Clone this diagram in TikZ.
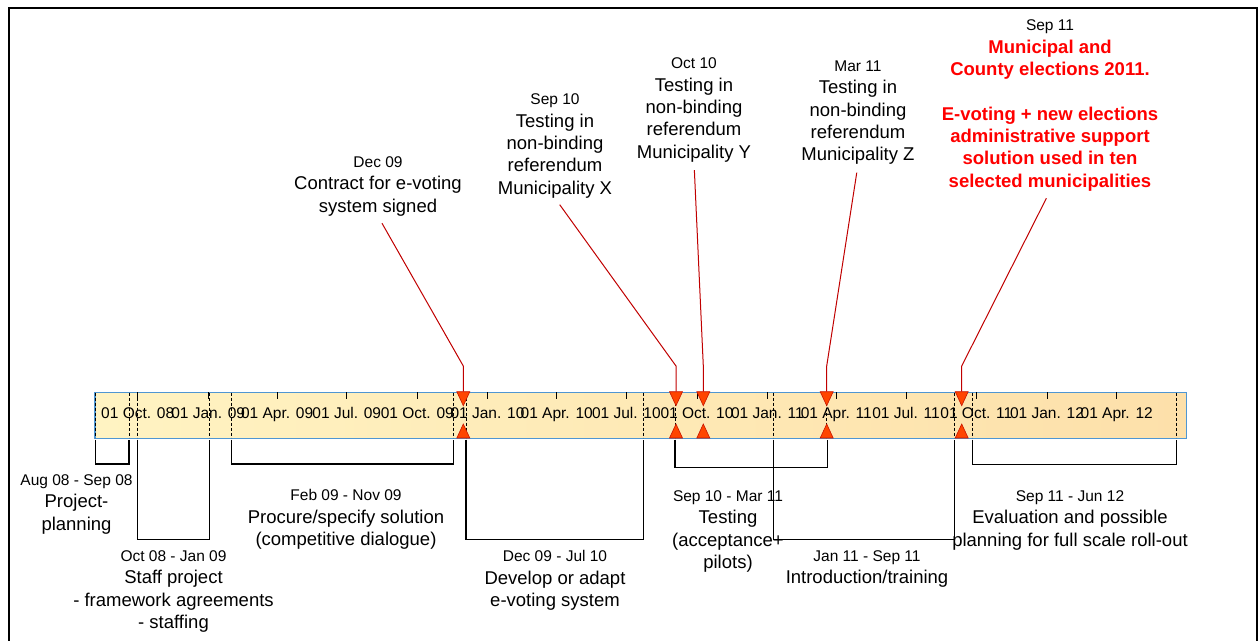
\documentclass[tikz,border=0pt]{standalone}
\usepackage{fontspec}
\setmainfont{Liberation Sans}
\newcommand\smallfnt{\fontsize{15.5}{22.3}\selectfont}
\newcommand\bigfnt{\fontsize{18.5}{22.3}\selectfont}
\definecolor{barblue}{RGB}{79,150,210}
\definecolor{barleft}{RGB}{255,243,194}
\definecolor{barright}{RGB}{253,224,170}
\definecolor{trifill}{RGB}{255,69,0}
\definecolor{tridraw}{RGB}{200,20,0}
\definecolor{msred}{RGB}{192,0,0}
\definecolor{redtxt}{RGB}{255,0,0}
\begin{document}
\begin{tikzpicture}[x=1pt,y=-1pt,
  lbl/.style={align=center,anchor=north,inner sep=0pt,font=\bigfnt},
  qlbl/.style={anchor=base,inner sep=0pt,font=\smallfnt},
  tickline/.style={line width=0.9pt},
  dashline/.style={line width=0.9pt,dash pattern=on 3pt off 2pt},
  bracket/.style={line width=1.3pt},
  msline/.style={draw=msred,line width=1pt,shorten <=8pt},
  tri/.style={fill=trifill,draw=tridraw,line width=0.6pt},
  barbox/.style={draw=barblue,line width=1.3pt,left color=barleft,right color=barright,inner sep=0pt,anchor=north west}
]
\useasboundingbox (0,0) rectangle (1258,640);
% frame
\draw[line width=2.3pt] (8.7,650) -- (8.7,8.2) -- (1257,8.2) -- (1257,650);

% bar
\node[barbox,minimum width=1091.4pt,minimum height=46.3pt] (bar) at (94.3,391.7) {};

% quarter labels and ticks
\foreach \x/\t [count=\i] in {137.7/01 Oct. 08,208.2/01 Jan. 09,277.1/01 Apr. 09,346.8/01 Jul. 09,417.3/01 Oct. 09,487.5/01 Jan. 10,556.7/01 Apr. 10,626.4/01 Jul. 10,697.0/01 Oct. 10,767.4/01 Jan. 11,836.3/01 Apr. 11,906.0/01 Jul. 11,976.3/01 Oct. 11,1047.0/01 Jan. 12,1116.7/01 Apr. 12}{
  \node[qlbl] (q\i) at (\x,418.5) {\t};
  \draw[tickline] (\x,392) -- (\x,399);
}

% dashed task boundaries
\foreach \x in {95.7,129,137.7,209.3,231.7,453.3,466,643.3,675,773.3,826.7,954.3,972.3,1176.7}{
  \draw[dashline] (\x,392.5) -- (\x,437.5);
}

% brackets
\draw[bracket] (95.7,439.5) |- (129,464) -- (129,439.5);
\draw[bracket] (137.7,439.5) |- (209.3,539.3) -- (209.3,439.5);
\draw[bracket] (231.7,439.5) |- (453.3,464) -- (453.3,439.5);
\draw[bracket] (466,439.5) |- (643.3,539.3) -- (643.3,439.5);
\draw[bracket] (675,439.5) |- (827.7,467.3) -- (827.7,439.5);
\draw[bracket] (773.3,439.5) |- (954.3,539.3) -- (954.3,439.5);
\draw[bracket] (972.3,439.5) |- (1176.7,464.3) -- (1176.7,439.5);

% bracket labels
\node[lbl] (l1) at (76.5,474.5) {{\smallfnt Aug 08 - Sep 08}\\Project-\\planning};
\node[lbl] (l2) at (173.5,550.5) {{\smallfnt Oct 08 - Jan 09}\\Staff project\\- framework agreements\\- staffing};
\node[lbl] (l3) at (346,489.5) {{\smallfnt Feb 09 - Nov 09}\\Procure/specify solution\\(competitive dialogue)};
\node[lbl] (l4) at (555,550.5) {{\smallfnt Dec 09 - Jul 10}\\Develop or adapt\\e-voting system};
\node[lbl] (l5) at (728,490.5) {{\smallfnt Sep 10 - Mar 11}\\Testing\\(acceptance+\\pilots)};
\node[lbl] (l6) at (867,550.5) {{\smallfnt Jan 11 - Sep 11}\\Introduction/training};
\node[lbl] (l7) at (1070,490.5) {{\smallfnt Sep 11 - Jun 12}\\Evaluation and possible\\planning for full scale roll-out};

% milestone labels
\node[lbl] (m1) at (378,156.6) {{\smallfnt Dec 09}\\Contract for e-voting\\system signed};
\node[lbl] (m2) at (555,93.9) {{\smallfnt Sep 10}\\Testing in\\non-binding\\referendum\\Municipality X};
\node[lbl] (m3) at (694,57.9) {{\smallfnt Oct 10}\\Testing in\\non-binding\\referendum\\Municipality Y};
\node[lbl] (m4) at (858,60.6) {{\smallfnt Mar 11}\\Testing in\\non-binding\\referendum\\Municipality Z};
\node[lbl,font=\bigfnt\bfseries,text=redtxt] (m5) at (1050,19.9) {{\smallfnt\mdseries\color{black}Sep 11}\\Municipal and\\County elections 2011.\\[22.3pt]E-voting + new elections\\administrative support\\solution used in ten\\selected municipalities};

% milestone markers and connectors
\foreach \x [count=\i] in {463.3,676,703.3,826.7,961.7}{
  \coordinate (t\i) at (\x,391.7);
  \coordinate (b\i) at (\x,366);
  \coordinate (u\i) at (\x,438);
}
\foreach \i in {1,...,5}{
  \draw[msline] (m\i.south) -- (b\i) -- (t\i);
  \draw[tri] ([xshift=-6.5pt]t\i) -- ([xshift=6.5pt]t\i) -- ([yshift=-14pt]t\i) -- cycle;
  \draw[tri] ([xshift=-6.5pt]u\i) -- ([xshift=6.5pt]u\i) -- ([yshift=14pt]u\i) -- cycle;
}
\end{tikzpicture}
\end{document}
